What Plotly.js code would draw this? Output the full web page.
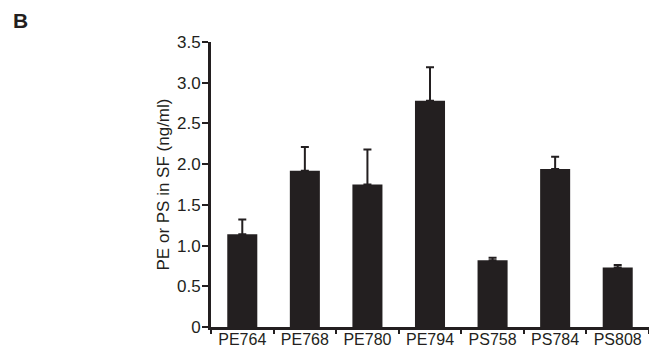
<!DOCTYPE html>
<html><head><meta charset="utf-8">
<script src="https://cdn.plot.ly/plotly-3.0.1.min.js"></script>
<style>html,body{margin:0;padding:0;background:#fff}#chart{width:649px;height:347px}</style>
</head><body><div id="chart"></div>
<script>
const categories = ["PE764","PE768","PE780","PE794","PS758","PS784","PS808"];
const means = [1.14, 1.92, 1.75, 2.78, 0.82, 1.94, 0.73];
const errUp = [0.18, 0.29, 0.43, 0.41, 0.03, 0.15, 0.03];
const errDown = [0, 0, 0, 0, 0, 0, 0];
const yTickVals = [0, 0.5, 1.0, 1.5, 2.0, 2.5, 3.0, 3.5];
const yTickText = ["0","0.5","1.0","1.5","2.0","2.5","3.0","3.5"];

const ink = "#231f20";
const trace = {
  type: "bar", x: categories, y: means,
  marker: {color: ink, line: {width: 0}},
  width: 0.48,
  error_y: {type: "data", symmetric: false, array: errUp, arrayminus: errDown,
            color: ink, thickness: 2, width: 4}
};
const layout = {
  width: 649, height: 347,
  margin: {l: 211, r: 0, t: 42, b: 20},
  paper_bgcolor: "#fff", plot_bgcolor: "#fff",
  showlegend: false,
  font: {family: "Liberation Sans, Arial, sans-serif", color: ink, size: 16},
  xaxis: {type: "category", showline: true, linewidth: 2.5, linecolor: ink,
          ticks: "outside", tickson: "boundaries", ticklen: 4, tickwidth: 2, tickcolor: ink,
          showgrid: false, zeroline: false, tickfont: {size: 16}, ticklabelstandoff: -4,
          fixedrange: true},
  yaxis: {range: [0, 3.5], showline: true, linewidth: 3, linecolor: ink,
          ticks: "outside", ticklen: 6, tickwidth: 2, tickcolor: ink,
          tickvals: yTickVals, ticktext: yTickText, showgrid: false, zeroline: false,
          tickfont: {size: 17}, ticklabelstandoff: -2,
          title: {text: "PE or PS in SF (ng/ml)", font: {size: 17}, standoff: 4}},
  annotations: [{text: "<b>B</b>", xref: "paper", yref: "paper",
    x: (20 - 211) / 438, y: 1 + (42 - 21) / 285, xanchor: "center", yanchor: "middle",
    showarrow: false, font: {size: 21, color: ink}}]
};
Plotly.newPlot("chart", [trace], layout, {displayModeBar: false, staticPlot: true});
</script></body></html>
